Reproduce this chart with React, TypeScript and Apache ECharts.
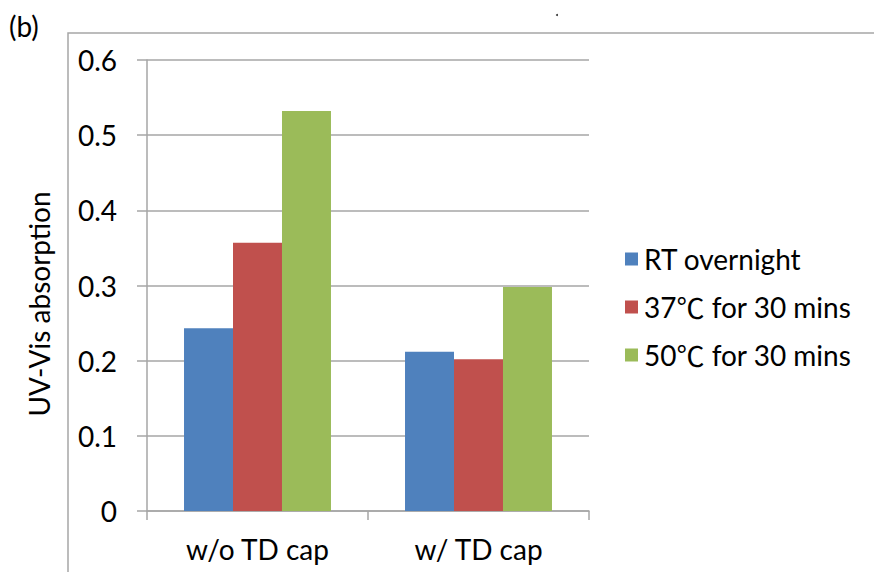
import React, { useEffect, useRef } from "react";
import * as echarts from "echarts";

const categories = ["w/o TD cap", "w/ TD cap"];
const seriesNames = ["RT overnight", "37\u2103 for 30 mins", "50\u2103 for 30 mins"];
const rtOvernight = [0.243, 0.212];
const c37 = [0.357, 0.202];
const c50 = [0.532, 0.298];
const colors = ["#4f81bd", "#c0504d", "#9bbb59"];
const yTicks = [0, 0.1, 0.2, 0.3, 0.4, 0.5, 0.6];
const yTitle = "UV-Vis absorption";

const FONT = "Lato, 'Open Sans', sans-serif";
const CJK = "Noto Sans CJK JP";
const FS = 28;

export default function App() {
  const ref = useRef<HTMLDivElement>(null);
  useEffect(() => {
    if (!ref.current) return;
    const chart = echarts.init(ref.current, null, { renderer: "svg" });
    const data = [rtOvernight, c37, c50];
    chart.setOption({
      animation: false,
      backgroundColor: "#ffffff",
      textStyle: { fontFamily: FONT },
      grid: { left: 147, right: 285, top: 60, bottom: 61, containLabel: false },
      legend: {
        orient: "vertical",
        left: 620,
        top: 239,
        itemWidth: 13,
        itemHeight: 13,
        itemGap: 18,
        icon: "rect",
        data: seriesNames,
        formatter: (n: string) => {
          const parts = n.split("\u2103");
          return parts.length > 1 ? `{a|${parts[0]}}{c|\u2103}{a|${parts[1]}}` : `{a|${n}}`;
        },
        textStyle: {
          fontSize: FS,
          color: "#000",
          fontFamily: FONT,
          lineHeight: 30,
          padding: [0, 0, 0, 1],
          rich: {
            a: { fontSize: FS, fontFamily: FONT, color: "#000", lineHeight: 30 },
            c: { fontSize: FS, fontFamily: CJK, color: "#000", lineHeight: 30 },
          },
        },
      },
      xAxis: {
        type: "category",
        data: categories,
        axisLine: { lineStyle: { color: "#a6a6a6", width: 1.5 } },
        axisTick: { show: true, length: 9, lineStyle: { color: "#a6a6a6", width: 1.5 } },
        axisLabel: { fontSize: FS, color: "#000", margin: 24, fontFamily: FONT },
      },
      yAxis: {
        type: "value",
        min: 0,
        max: yTicks[yTicks.length - 1],
        interval: 0.1,
        axisLine: { show: true, lineStyle: { color: "#a6a6a6", width: 1.5 } },
        axisTick: { show: true, length: 10, lineStyle: { color: "#a6a6a6", width: 1.5 } },
        axisLabel: { fontSize: FS, color: "#000", margin: 30, fontFamily: FONT, formatter: (v: number) => String(Math.round(v * 10) / 10) },
        splitLine: { show: true, lineStyle: { color: "#a6a6a6", width: 1.5 } },
      },
      series: seriesNames.map((name, i) => ({
        name,
        type: "bar",
        data: data[i],
        barGap: "0%",
        barCategoryGap: "33.5%",
        itemStyle: { color: colors[i] },
      })),
      graphic: [
        { type: "rect", shape: { x: 68, y: 33, width: 900, height: 700 }, style: { fill: "none", stroke: "#a6a6a6", lineWidth: 1.5 }, silent: true },
        { type: "text", left: 9, top: 12, style: { text: "(b)", fontSize: FS, fill: "#000", fontFamily: FONT } },
        {
          type: "text",
          x: 39,
          y: 304,
          rotation: Math.PI / 2,
          style: { text: yTitle, fontSize: FS, fill: "#000", fontFamily: FONT, align: "center", verticalAlign: "middle" },
        },
        { type: "circle", shape: { cx: 557, cy: 15, r: 1 }, style: { fill: "#333" } },
      ],
    });
    return () => chart.dispose();
  }, []);
  return <div ref={ref} style={{ width: 874, height: 572, position: "absolute", left: 0, top: 0 }} />;
}
